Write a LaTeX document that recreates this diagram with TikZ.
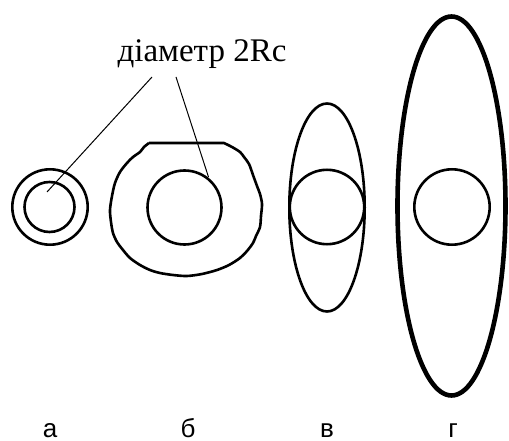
\documentclass[tikz,border=0pt]{standalone}
\usepackage{fontspec}
\setmainfont{Liberation Serif}
\newfontfamily\labfont{Liberation Sans}
\begin{document}
\begin{tikzpicture}[x=1pt,y=-1pt,
  shape line/.style={line width=2.6pt},
  thick shape/.style={line width=4.6pt},
  leader/.style={line width=1pt},
  caption/.style={font=\labfont\fontsize{26}{26}\selectfont, inner sep=0pt, anchor=base},
  title/.style={font=\fontsize{33}{33}\selectfont, inner sep=0pt, anchor=base}]
\useasboundingbox (0,0) rectangle (509,441);
% a
\draw[shape line] (50,207) circle[radius=37.7];
\draw[shape line] (49.5,207) circle[radius=25];
% b
\draw[shape line] (184.5,207.5) circle[radius=37];
\draw[shape line, line join=round] (149,143) -- (224,143)
  plot[smooth, tension=0.5] coordinates {(224,143) (232,147) (240,152) (244,157) (249,164) (253,175) (257,186) (260,194) (262,204) (261,216) (260,227) (256,236) (253,243) (247,251) (240,258) (229,265) (217,270) (202,274) (187,276) (173,275) (160,273) (150,270) (140,265) (130,258) (123,250) (117,242) (113,233) (111,222) (110,210) (112,196) (115,183) (120,172) (127,163) (133,157) (140,152) (144,147) (149,143)};
% v
\draw[shape line] (327,207.5) ellipse[x radius=37.7, y radius=104];
\draw[shape line] (327,207) circle[radius=37.2];
% g
\draw[thick shape] (451.5,206) ellipse[x radius=54, y radius=189.5];
\draw[shape line] (452,207) circle[radius=37.7];
% title and leaders
\node[title] (t) at (202,62) {діаметр 2Rc};
\coordinate (l1s) at (152,77);
\coordinate (l1e) at (47,192);
\coordinate (l2s) at (176,77);
\coordinate (l2e) at (208.5,177);
\draw[leader] (l1s) -- (l1e);
\draw[leader] (l2s) -- (l2e);
% captions
\node[caption] (ca) at (50,437) {а};
\node[caption] (cb) at (188,437) {б};
\node[caption] (cv) at (327,437) {в};
\node[caption] (cg) at (453,437) {г};
\end{tikzpicture}
\end{document}
